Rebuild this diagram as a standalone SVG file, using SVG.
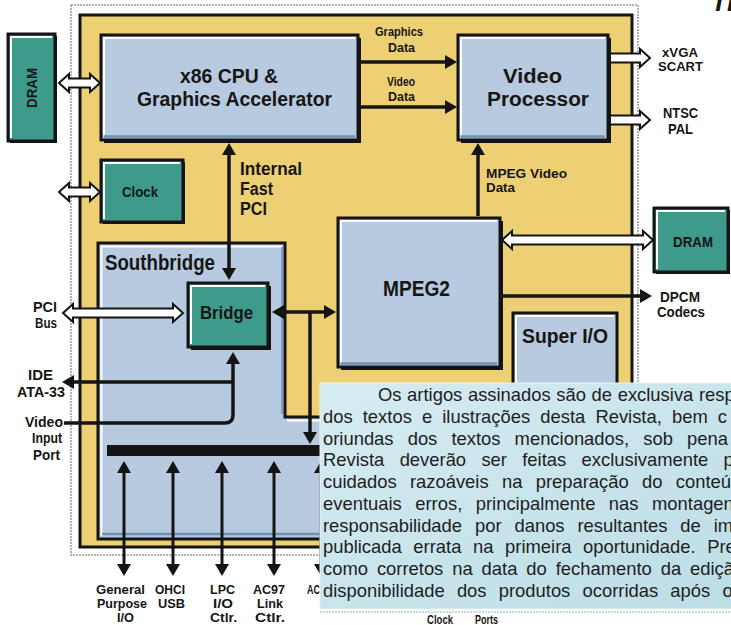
<svg xmlns="http://www.w3.org/2000/svg" width="731" height="625" viewBox="0 0 731 625">
<defs>
<style>
.lb{fill:#b7cadf;stroke:#141414;stroke-width:3}
.tl{fill:#3e9a8b;stroke:#141414;stroke-width:3}
.sh{fill:#141414}
.hl{fill:none;stroke:#ffffff;stroke-width:2}
.dk{fill:none;stroke:#6f92b3;stroke-width:2.5}
.w{fill:none;stroke:#141414;stroke-width:3.5}
.wb{fill:none;stroke:#141414;stroke-width:3}
.ho{fill:#ffffff;stroke:#141414;stroke-width:2}
.t{font-family:"Liberation Sans",Arial,sans-serif;font-weight:bold;fill:#161616}
.o{font-family:"Liberation Sans",Arial,sans-serif;font-size:18.4px;fill:#1e1e1e}
</style>
<linearGradient id="og" x1="0" y1="0" x2="1" y2="1">
<stop offset="0" stop-color="#d6ecf1"/>
<stop offset="1" stop-color="#bcdde6"/>
</linearGradient>
<marker id="ah" viewBox="0 0 12 14" refX="3" refY="7" markerWidth="12" markerHeight="14" markerUnits="userSpaceOnUse" orient="auto-start-reverse">
<path d="M0,0 L12,7 L0,14 Z" fill="#141414"/>
</marker>
</defs>
<rect x="0" y="0" width="731" height="625" fill="#ffffff"/>
<text class="t" x="711" y="11" font-size="26" font-style="italic">TI</text>

<g id="frame">
<rect x="71" y="5" width="567" height="550" fill="#ffffff" stroke="#9a9a9a" stroke-width="1.5" stroke-dasharray="2 1"/>
<rect x="80" y="15" width="552" height="532" fill="#edcf74" stroke="#141414" stroke-width="3"/>
</g>

<g id="cpu">
<rect class="sh" x="104" y="38" width="257" height="105"/>
<rect class="lb" x="101" y="35" width="257" height="105"/>
<path class="hl" d="M104,135 V38 H355"/>
<path class="dk" d="M104,136.5 H355"/>
<text class="t" x="180" y="83" font-size="20" textLength="98" lengthAdjust="spacingAndGlyphs">x86 CPU &amp;</text>
<text class="t" x="137" y="106" font-size="20" textLength="195" lengthAdjust="spacingAndGlyphs">Graphics Accelerator</text>
</g>

<g id="video-processor">
<rect class="sh" x="461" y="38" width="150" height="105"/>
<rect class="lb" x="458" y="35" width="150" height="105"/>
<path class="hl" d="M461,135 V38 H605"/>
<path class="dk" d="M461,136.5 H605"/>
<text class="t" x="503" y="83" font-size="20" textLength="59" lengthAdjust="spacingAndGlyphs">Video</text>
<text class="t" x="487" y="106" font-size="20" textLength="102" lengthAdjust="spacingAndGlyphs">Processor</text>
</g>

<g id="dram-left">
<rect class="sh" x="10" y="36" width="47" height="107"/>
<rect class="tl" x="8" y="34" width="47" height="107"/>
<path class="hl" d="M11,138 V37 H52"/>
<text class="t" x="-20" y="0" font-size="14" transform="translate(37,88) rotate(-90)" textLength="40" lengthAdjust="spacingAndGlyphs">DRAM</text>
</g>

<g id="clock">
<rect class="sh" x="103" y="162" width="82" height="62"/>
<rect class="tl" x="101" y="160" width="82" height="62"/>
<path class="hl" d="M104,219 V163 H180"/>
<text class="t" x="122" y="197" font-size="15" textLength="36" lengthAdjust="spacingAndGlyphs">Clock</text>
</g>

<g id="southbridge">
<path d="M98,243 H285 V417 H600 V539 H98 Z" fill="#b7cadf" stroke="#141414" stroke-width="3"/>
<path class="hl" d="M101.5,536 V246.5 H282"/>
<path class="hl" d="M287,420.5 H598"/>
<path d="M282,247 V414" fill="none" stroke="#7fa0c0" stroke-width="2"/>
<path class="dk" d="M102,534 H598"/>
<text class="t" x="105" y="270" font-size="22" textLength="110" lengthAdjust="spacingAndGlyphs">Southbridge</text>
</g>

<g id="bridge">
<rect class="sh" x="191" y="286" width="80" height="64"/>
<rect class="tl" x="188" y="283" width="80" height="64"/>
<path class="hl" d="M191,344 V286 H265"/>
<text class="t" x="200" y="319" font-size="18" textLength="53" lengthAdjust="spacingAndGlyphs">Bridge</text>
</g>

<g id="mpeg2">
<rect class="sh" x="341" y="221" width="162" height="149"/>
<rect class="lb" x="338" y="218" width="162" height="149"/>
<path class="hl" d="M341,362 V221 H497"/>
<path class="dk" d="M341,363.5 H497"/>
<text class="t" x="383" y="296" font-size="22" textLength="67" lengthAdjust="spacingAndGlyphs">MPEG2</text>
</g>

<g id="super-io">
<rect class="lb" x="513" y="313" width="104" height="140"/>
<path class="hl" d="M516,450 V316 H614"/>
<text class="t" x="522" y="343" font-size="20" textLength="86" lengthAdjust="spacingAndGlyphs">Super I/O</text>
</g>

<g id="dram-right">
<rect class="sh" x="656" y="210" width="74" height="64"/>
<rect class="tl" x="654" y="208" width="74" height="64"/>
<path class="hl" d="M657,269 V211 H725"/>
<text class="t" x="673" y="247" font-size="14" textLength="40" lengthAdjust="spacingAndGlyphs">DRAM</text>
</g>

<g id="connectors">
<path class="ho" d="M59,83 L69,74 V78.5 H90 V74 L100,83 L90,92 V87.5 H69 V92 Z"/>
<path class="ho" d="M59,192 L69,183 V187.5 H90 V183 L100,192 L90,201 V196.5 H69 V201 Z"/>
<path class="ho" d="M63,313 L73,304 V308.5 H173 V304 L183,313 L173,322 V317.5 H73 V322 Z"/>
<path class="ho" d="M502,240 L512,231 V235.5 H643 V231 L653,240 L643,249 V244.5 H512 V249 Z"/>
<path class="ho" d="M610,53.5 H640 V49 L650,58 L640,67 V62.5 H610 Z"/>
<path class="ho" d="M610,115.5 H640 V111 L650,120 L640,129 V124.5 H610 Z"/>
<path class="w" d="M361,62 H448" marker-end="url(#ah)"/>
<path class="w" d="M361,107 H448" marker-end="url(#ah)"/>
<path class="w" d="M229,152 V271" marker-start="url(#ah)" marker-end="url(#ah)"/>
<path class="w" d="M478,216 V152" marker-end="url(#ah)"/>
<path class="w" d="M281,312 H327" marker-start="url(#ah)" marker-end="url(#ah)"/>
<path class="w" d="M310,312 V435" marker-end="url(#ah)"/>
<path class="w" d="M503,296 H643" marker-end="url(#ah)"/>
<path class="w" d="M64,423 H225 Q233,423 233,415 V361" marker-end="url(#ah)"/>
<path class="w" d="M233,382 H71" marker-end="url(#ah)"/>
<rect x="107" y="445" width="230" height="11" fill="#141414"/>
<path class="wb" d="M124,470 V567" marker-start="url(#ah)" marker-end="url(#ah)"/>
<path class="wb" d="M173,470 V567" marker-start="url(#ah)" marker-end="url(#ah)"/>
<path class="wb" d="M222,470 V567" marker-start="url(#ah)" marker-end="url(#ah)"/>
<path class="wb" d="M274,470 V567" marker-start="url(#ah)" marker-end="url(#ah)"/>
<path class="wb" d="M321,470 V567" marker-start="url(#ah)" marker-end="url(#ah)"/>
</g>

<g id="labels">
<text class="t" x="375" y="36" font-size="12" textLength="48" lengthAdjust="spacingAndGlyphs">Graphics</text>
<text class="t" x="388" y="52" font-size="12" textLength="27" lengthAdjust="spacingAndGlyphs">Data</text>
<text class="t" x="387" y="86" font-size="12" textLength="28" lengthAdjust="spacingAndGlyphs">Video</text>
<text class="t" x="388" y="101" font-size="12" textLength="27" lengthAdjust="spacingAndGlyphs">Data</text>
<text class="t" x="240" y="175" font-size="18" textLength="62" lengthAdjust="spacingAndGlyphs">Internal</text>
<text class="t" x="240" y="195" font-size="18" textLength="33" lengthAdjust="spacingAndGlyphs">Fast</text>
<text class="t" x="240" y="215" font-size="18" textLength="27" lengthAdjust="spacingAndGlyphs">PCI</text>
<text class="t" x="486" y="178" font-size="13" textLength="81" lengthAdjust="spacingAndGlyphs">MPEG Video</text>
<text class="t" x="486" y="192" font-size="13" textLength="29" lengthAdjust="spacingAndGlyphs">Data</text>
<text class="t" x="662" y="57" font-size="13" textLength="36" lengthAdjust="spacingAndGlyphs">xVGA</text>
<text class="t" x="658" y="71" font-size="13" textLength="45" lengthAdjust="spacingAndGlyphs">SCART</text>
<text class="t" x="663" y="118" font-size="14" textLength="35" lengthAdjust="spacingAndGlyphs">NTSC</text>
<text class="t" x="668" y="134" font-size="14" textLength="25" lengthAdjust="spacingAndGlyphs">PAL</text>
<text class="t" x="660" y="302" font-size="14" textLength="40" lengthAdjust="spacingAndGlyphs">DPCM</text>
<text class="t" x="657" y="317" font-size="14" textLength="48" lengthAdjust="spacingAndGlyphs">Codecs</text>
<text class="t" x="33" y="312" font-size="14" textLength="24" lengthAdjust="spacingAndGlyphs">PCI</text>
<text class="t" x="35" y="328" font-size="14" textLength="22" lengthAdjust="spacingAndGlyphs">Bus</text>
<text class="t" x="28" y="380" font-size="14" textLength="25" lengthAdjust="spacingAndGlyphs">IDE</text>
<text class="t" x="17" y="397" font-size="14" textLength="48" lengthAdjust="spacingAndGlyphs">ATA-33</text>
<text class="t" x="25" y="427" font-size="14" textLength="38" lengthAdjust="spacingAndGlyphs">Video</text>
<text class="t" x="32" y="443" font-size="14" textLength="30" lengthAdjust="spacingAndGlyphs">Input</text>
<text class="t" x="33" y="460" font-size="14" textLength="27" lengthAdjust="spacingAndGlyphs">Port</text>
<text class="t" x="96" y="594" font-size="12" textLength="49" lengthAdjust="spacingAndGlyphs">General</text>
<text class="t" x="97" y="608" font-size="12" textLength="50" lengthAdjust="spacingAndGlyphs">Purpose</text>
<text class="t" x="117" y="622" font-size="12" textLength="17" lengthAdjust="spacingAndGlyphs">I/O</text>
<text class="t" x="155" y="594" font-size="12" textLength="30" lengthAdjust="spacingAndGlyphs">OHCI</text>
<text class="t" x="158" y="608" font-size="12" textLength="27" lengthAdjust="spacingAndGlyphs">USB</text>
<text class="t" x="210" y="594" font-size="12" textLength="25" lengthAdjust="spacingAndGlyphs">LPC</text>
<text class="t" x="213" y="608" font-size="12" textLength="20" lengthAdjust="spacingAndGlyphs">I/O</text>
<text class="t" x="210" y="622" font-size="12" textLength="27" lengthAdjust="spacingAndGlyphs">Ctlr.</text>
<text class="t" x="253" y="594" font-size="12" textLength="32" lengthAdjust="spacingAndGlyphs">AC97</text>
<text class="t" x="257" y="608" font-size="12" textLength="26" lengthAdjust="spacingAndGlyphs">Link</text>
<text class="t" x="255" y="622" font-size="12" textLength="30" lengthAdjust="spacingAndGlyphs">Ctlr.</text>
<text class="t" x="307" y="594" font-size="12" textLength="13" lengthAdjust="spacingAndGlyphs">AC</text>
<text class="t" x="427" y="624" font-size="12" textLength="26" lengthAdjust="spacingAndGlyphs">Clock</text>
<text class="t" x="475" y="624" font-size="12" textLength="23" lengthAdjust="spacingAndGlyphs">Ports</text>
</g>

<g id="notice">
<rect x="320" y="383" width="420" height="226" fill="url(#og)" stroke="#e8f4f7" stroke-width="1"/>
<path d="M320,612 H731" stroke="#a9a9a9" stroke-width="1.2" stroke-dasharray="2 1" fill="none"/>
<text class="o" x="378" y="401" word-spacing="0.5">Os artigos assinados são de exclusiva resp</text>
<text class="o" x="323" y="422.8" word-spacing="5">dos textos e ilustrações desta Revista, bem c</text>
<text class="o" x="323" y="444.6" word-spacing="9">oriundas dos textos mencionados, sob pena</text>
<text class="o" x="323" y="466.3" word-spacing="10.2">Revista deverão ser feitas exclusivamente p</text>
<text class="o" x="323" y="488.1" word-spacing="8.2">cuidados razoáveis na preparação do conteú</text>
<text class="o" x="323" y="509.9" word-spacing="8.4">eventuais erros, principalmente nas montagen</text>
<text class="o" x="323" y="531.7" word-spacing="7.8">responsabilidade por danos resultantes de im</text>
<text class="o" x="323" y="553.4" word-spacing="6.5">publicada errata na primeira oportunidade. Pre</text>
<text class="o" x="323" y="575.2" word-spacing="3.8">como corretos na data do fechamento da ediçã</text>
<text class="o" x="323" y="597" word-spacing="7.1">disponibilidade dos produtos ocorridas após o</text>
</g>
</svg>
